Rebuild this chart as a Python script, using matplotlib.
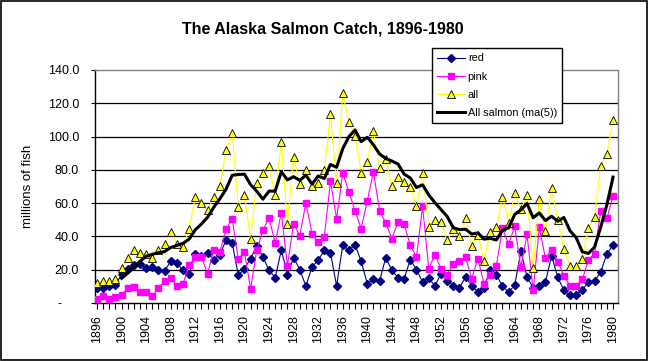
import matplotlib
matplotlib.use("Agg")
import matplotlib.pyplot as plt
import numpy as np
import pandas as pd
from matplotlib.patches import Rectangle
from matplotlib.ticker import FixedLocator, FuncFormatter, MultipleLocator

plt.rcParams["font.family"] = ["Liberation Sans", "DejaVu Sans"]

years = list(range(1896, 1981))

# catch in millions of fish
red = [
    9.0, 9.0, 10.0, 11.0, 17.2, 20.5, 22.7, 23.3, 21.3, 21.6,
    19.6, 19.4, 25.0, 23.8, 19.7, 17.6, 29.3, 28.2, 30.1, 26.1,
    29.0, 37.8, 36.0, 16.6, 20.7, 26.7, 34.1, 27.7, 19.7, 15.2,
    31.7, 17.0, 27.3, 20.1, 10.2, 21.7, 25.7, 31.7, 30.3, 10.2,
    34.7, 31.7, 35.1, 25.1, 11.6, 14.6, 13.2, 27.3, 19.7, 15.2,
    14.6, 26.1, 20.1, 12.6, 15.0, 10.3, 17.5, 13.5, 10.4, 9.0,
    15.7, 10.4, 6.6, 9.0, 20.1, 17.1, 10.0, 6.6, 10.6, 31.1,
    15.7, 9.0, 10.0, 12.5, 28.3, 15.5, 7.6, 4.5, 5.0, 7.8,
    12.7, 13.2, 18.7, 29.5, 34.9,
]
pink = [
    2.6, 4.0, 2.6, 3.6, 4.6, 9.0, 9.6, 6.6, 6.6, 4.0,
    9.0, 13.2, 14.8, 10.2, 11.5, 23.0, 27.5, 27.7, 17.6, 31.8,
    30.7, 44.2, 50.6, 26.4, 30.5, 8.4, 31.7, 43.7, 51.1, 36.1,
    54.2, 22.3, 47.7, 40.3, 60.2, 41.7, 36.7, 39.7, 73.2, 50.7,
    78.2, 66.8, 55.4, 44.7, 61.4, 78.8, 55.4, 48.1, 38.7, 48.7,
    47.3, 34.7, 27.7, 58.0, 20.7, 29.1, 20.7, 16.7, 23.7, 25.5,
    27.4, 14.7, 26.7, 11.6, 17.1, 22.4, 45.0, 35.4, 46.0, 21.4,
    41.2, 7.6, 45.4, 26.9, 31.9, 24.9, 16.5, 10.4, 10.4, 14.2,
    25.9, 29.7, 55.2, 50.8, 64.1,
]
all_salmon = [
    12.0, 13.4, 13.0, 14.6, 21.3, 27.3, 32.1, 30.3, 29.3, 27.3,
    32.1, 35.3, 42.6, 35.5, 33.8, 44.7, 63.4, 60.0, 55.6, 63.8,
    70.2, 91.9, 102.2, 57.9, 64.8, 38.7, 72.2, 78.2, 82.2, 64.8,
    96.9, 47.7, 87.8, 71.2, 80.2, 70.2, 72.2, 80.2, 113.3, 71.8,
    126.0, 108.5, 100.3, 78.2, 84.8, 103.3, 81.2, 86.8, 70.4, 75.8,
    72.8, 69.8, 58.2, 78.4, 45.5, 49.7, 48.8, 37.6, 44.2, 40.2,
    50.8, 34.5, 40.9, 25.4, 42.8, 45.6, 63.9, 47.9, 66.1, 56.2,
    64.8, 21.1, 62.5, 43.0, 69.1, 50.0, 32.3, 22.5, 22.5, 26.5,
    45.1, 51.6, 82.5, 89.3, 109.7,
]

y_ticks = [0, 20, 40, 60, 80, 100, 120, 140]
label_years = list(range(1896, 1981, 4))

# Excel style 5 period moving average trendline (trailing)
ma5 = pd.Series(all_salmon, index=years).rolling(5).mean()


def excel_fmt(v, _):
    # accounting style: zero shows as a dash
    return "-     " if v == 0 else f"{v:.1f}"


fig = plt.figure(figsize=(6.48, 3.61), dpi=100)
fig.patches.append(Rectangle((0.0015, 0.003), 0.997, 0.994, transform=fig.transFigure,
                             fill=False, edgecolor="black", linewidth=1.2))

ax = fig.add_axes([0.1466, 0.1607, 0.807, 0.6454])

ax.plot(years, red, color="#000080", linewidth=0.8, marker="D", markersize=4.3,
        markerfacecolor="#000080", markeredgecolor="#000080", label="red", zorder=3)
ax.plot(years, pink, color="#FF00FF", linewidth=0.8, marker="s", markersize=4.3,
        markerfacecolor="#FF00FF", markeredgecolor="#FF00FF", label="pink", zorder=3)
ax.plot(years, all_salmon, color="#FFFF00", linewidth=0.8, marker="^", markersize=5.5,
        markerfacecolor="#FFFF00", markeredgecolor="black", markeredgewidth=0.6,
        label="all", zorder=4)
ax.plot(ma5.index, ma5.values, color="black", linewidth=2.2, label="All salmon (ma(5))",
        zorder=5)

ax.set_xlim(1895.67, 1980.8)
ax.set_ylim(0, 140)

ax.yaxis.set_major_locator(FixedLocator(y_ticks))
ax.yaxis.set_major_formatter(FuncFormatter(excel_fmt))
ax.xaxis.set_major_locator(FixedLocator(label_years))
ax.xaxis.set_minor_locator(MultipleLocator(1))
ax.set_xticklabels([str(y) for y in label_years], rotation=90)

ax.tick_params(axis="x", which="both", direction="out", length=4, width=0.8, pad=4.5,
               labelsize=9, color="black")
ax.tick_params(axis="y", direction="out", length=3, width=0.8, pad=8.5, labelsize=9)

ax.yaxis.grid(True, color="black", linewidth=0.9)
ax.set_axisbelow(True)
grid_lines = ax.yaxis.get_gridlines()
grid_lines[0].set_visible(False)
grid_lines[-1].set_visible(False)

for side in ("top", "right"):
    ax.spines[side].set_color("#808080")
    ax.spines[side].set_linewidth(1.0)
for side in ("left", "bottom"):
    ax.spines[side].set_color("black")
    ax.spines[side].set_linewidth(1.0)

ax.set_ylabel("millions of fish", fontsize=9.5)
ax.yaxis.set_label_coords(-0.117, 0.5)
fig.text(0.498, 0.92, "The Alaska Salmon Catch, 1896-1980", ha="center", va="center",
         fontsize=11.5, fontweight="bold")

leg = ax.legend(loc="upper left", bbox_to_anchor=(0.6667, 0.867), bbox_transform=fig.transFigure,
                borderaxespad=0, fontsize=7.8, handlelength=2.5, handletextpad=0.3,
                labelspacing=0.75, borderpad=0.5, fancybox=False, framealpha=1,
                edgecolor="black")
leg.get_frame().set_linewidth(1.0)
leg.set_zorder(10)

fig.savefig("out.png", dpi=100)
